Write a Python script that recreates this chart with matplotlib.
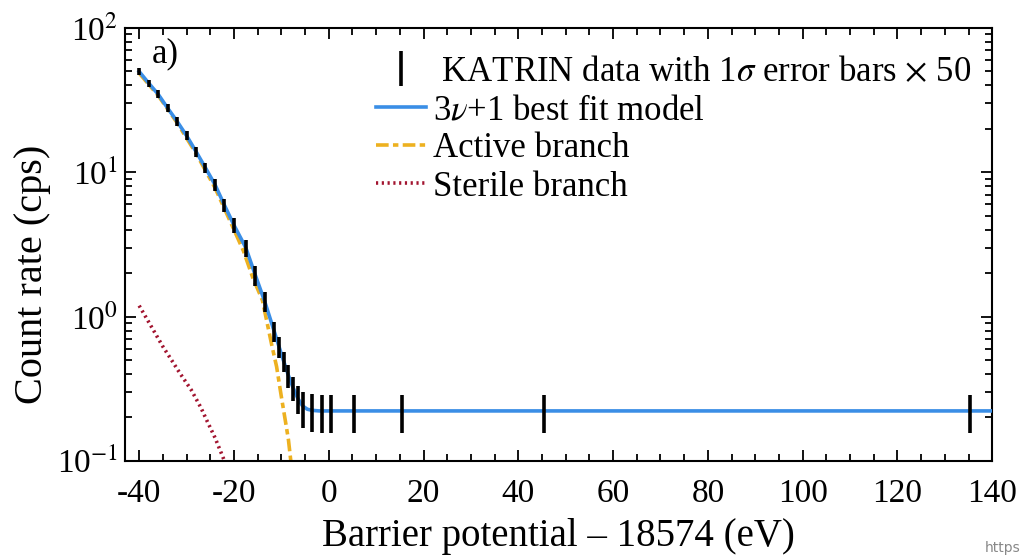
import numpy as np
import matplotlib
matplotlib.use('Agg')
import matplotlib.pyplot as plt
from matplotlib.ticker import LogLocator, FixedLocator, NullFormatter

plt.rcParams['font.family'] = ['Liberation Serif', 'DejaVu Serif']
plt.rcParams['mathtext.fontset'] = 'stix'

# KATRIN data points (count rate, error bars already x50)
data_x = [-40, -38, -36, -34, -32, -30, -28, -26, -24, -22, -20, -17.5, -15.5,
          -13.5, -11.5, -10.5, -9.5, -8.5, -7.5, -6.5, -5.5, -3.5, -1.5, 0.5,
          5.3, 15.4, 45.4, 135.3]
data_y = [49.8, 41.4, 34.7, 27.8, 22.5, 17.9, 13.9, 10.7, 8.2, 5.9, 4.3, 3.0,
          1.94, 1.27, 0.79, 0.62, 0.49, 0.39, 0.32, 0.27, 0.235, 0.224, 0.222,
          0.222, 0.222, 0.222, 0.222, 0.222]
data_err = [2.8, 2.4, 2.1, 1.8, 1.5, 1.3, 1.1, 0.9, 0.75, 0.6, 0.5, 0.4, 0.3,
            0.2, 0.12, 0.1, 0.08, 0.07, 0.06, 0.06, 0.065, 0.065, 0.065,
            0.065, 0.065, 0.065, 0.065, 0.065]

# 3nu+1 best fit model
model_x = [-40, -38, -36, -34, -32, -30, -28, -26, -24, -22, -20, -17.5, -15.5,
           -13.5, -11.5, -10.5, -9.5, -8.5, -7.5, -6.5, -5.5, -4.5, -3.5, -2,
           0, 140]
model_y = [49.8, 41.4, 34.7, 27.8, 22.5, 17.9, 13.9, 10.7, 8.2, 5.9, 4.3, 3.0,
           1.94, 1.27, 0.79, 0.62, 0.49, 0.39, 0.32, 0.27, 0.24, 0.228, 0.224,
           0.222, 0.222, 0.222]

# active branch
active_x = [-40, -36, -32, -28, -24, -20, -18, -16, -14, -12, -11, -10, -9,
            -8.5, -8, -7.6]
active_y = [48.5, 34.0, 22.0, 13.5, 7.8, 4.0, 2.85, 1.85, 1.3, 0.63, 0.45,
            0.279, 0.177, 0.14, 0.1, 0.075]

# sterile branch
sterile_x = [-40, -37.5, -35, -33, -31.4, -29, -27, -25.7, -24, -22, -21.5]
sterile_y = [1.19, 0.86, 0.62, 0.49, 0.405, 0.31, 0.235, 0.19, 0.145, 0.1,
             0.092]

fig = plt.figure(figsize=(10.24, 5.56), dpi=100)
ax = fig.add_axes([0.122, 0.171, 0.847, 0.779])

eb = ax.errorbar(data_x, data_y, yerr=data_err, fmt='none', ecolor='black',
                 elinewidth=2.6, capsize=0, zorder=4,
                 label=r' KATRIN data with 1$\sigma$ error bars $\times$ 50')
l_model, = ax.plot(model_x, model_y, color='#3a8ee6', lw=2.6, zorder=3,
                   label=r'3$\nu$+1 best fit model')
l_act, = ax.plot(active_x, active_y, color='#EDB120', lw=2.6,
                 dashes=(3.5, 1.2, 1.5, 1.2), zorder=2, label='Active branch')
l_ster, = ax.plot(sterile_x, sterile_y, color='#A2142F', lw=2.6,
                  linestyle=(0, (0.6, 1.0)), zorder=2, label='Sterile branch')

ax.set_yscale('log')
ax.set_xlim(-43, 140)
ax.set_ylim(0.1, 100)

ax.xaxis.set_major_locator(FixedLocator(np.arange(-40, 141, 20)))
ax.xaxis.set_minor_locator(FixedLocator(np.arange(-40, 141, 5)))
ax.set_xticklabels([str(v) for v in range(-40, 141, 20)])
ax.yaxis.set_major_locator(FixedLocator([0.1, 1, 10, 100]))
ax.set_yticklabels([r'10$^{-1}$', r'10$^{0}$', r'10$^{1}$', r'10$^{2}$'])
ax.yaxis.set_minor_locator(LogLocator(base=10, subs=np.arange(2, 10)))
ax.yaxis.set_minor_formatter(NullFormatter())

ax.tick_params(which='both', direction='in', top=True, right=True,
               labelsize=24, width=1.3)
ax.tick_params(axis='x', pad=13)
ax.tick_params(axis='y', pad=5)
ax.tick_params(which='major', length=8)
ax.tick_params(which='minor', length=5)
for s in ax.spines.values():
    s.set_linewidth(1.5)

ax.set_xlabel('Barrier potential – 18574 (eV)', fontsize=28, labelpad=6)
ax.set_ylabel('Count rate (cps)', fontsize=29)
ax.yaxis.set_label_coords(-0.085, 0.43)

ax.text(-37.3, 66, 'a)', fontsize=25, va='center')

ax.legend(handles=[eb, l_model, l_act, l_ster], loc='upper right',
          bbox_to_anchor=(0.976, 0.935), frameon=False, fontsize=25,
          handlelength=1.45, handletextpad=0.2, labelspacing=0.15,
          borderaxespad=0.0, borderpad=0.0)

fig.text(0.962, 0.002, 'https', fontsize=10, color='#888888',
         family='DejaVu Sans', va='bottom')

fig.savefig('out.png', dpi=100)
